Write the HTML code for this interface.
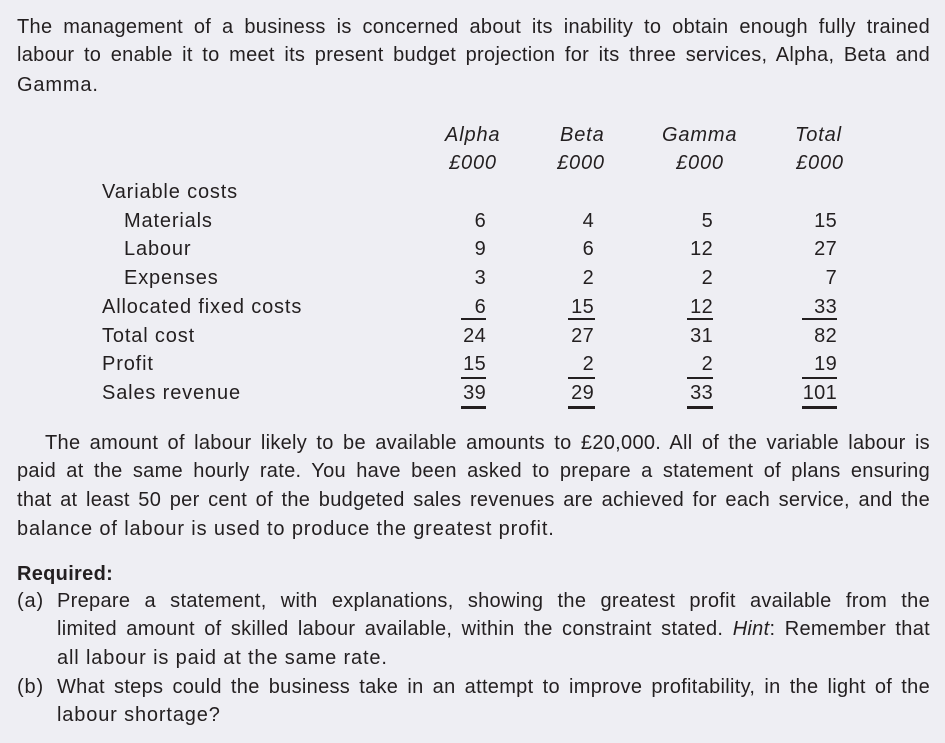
<!DOCTYPE html>
<html><head><style>
body{margin:0;width:945px;height:743px;background:#eeeef3;font-family:"Liberation Sans",sans-serif;font-size:20px;letter-spacing:0.85px;color:#231f20;position:relative;overflow:hidden}
.l{position:absolute;left:17px;width:913px;text-align:justify;text-align-last:justify;line-height:22px;overflow:visible}
.l.n{text-align-last:left;white-space:nowrap}
.t{position:absolute;line-height:22px;white-space:nowrap}
.r{position:absolute;line-height:22px;text-align:right;white-space:nowrap;letter-spacing:0.3px}
.u{position:absolute;height:2px;background:#231f20}
.d{position:absolute;height:3px;background:#231f20}
</style></head><body>
<div class="l" style="top:16px;letter-spacing:0.3px">The management of a business is concerned about its inability to obtain enough fully trained</div>
<div class="l" style="top:44px;letter-spacing:0.3px">labour to enable it to meet its present budget projection for its three services, Alpha, Beta and</div>
<div class="l n" style="top:74px">Gamma.</div>

<div class="t" style="left:445px;top:124px;font-style:italic">Alpha</div>
<div class="t" style="left:449px;top:152px;font-style:italic">£000</div>
<div class="t" style="left:560px;top:124px;font-style:italic">Beta</div>
<div class="t" style="left:557px;top:152px;font-style:italic">£000</div>
<div class="t" style="left:662px;top:124px;font-style:italic">Gamma</div>
<div class="t" style="left:676px;top:152px;font-style:italic">£000</div>
<div class="t" style="left:795px;top:124px;font-style:italic">Total</div>
<div class="t" style="left:796px;top:152px;font-style:italic">£000</div>

<div class="t" style="left:102px;top:181px">Variable costs</div>
<div class="t" style="left:124px;top:210px">Materials</div>
<div class="t" style="left:124px;top:238px">Labour</div>
<div class="t" style="left:124px;top:267px">Expenses</div>
<div class="t" style="left:102px;top:296px">Allocated fixed costs</div>
<div class="t" style="left:102px;top:325px">Total cost</div>
<div class="t" style="left:102px;top:353px">Profit</div>
<div class="t" style="left:102px;top:382px">Sales revenue</div>

<div class="r" style="left:400px;width:86px;top:210px">6</div>
<div class="r" style="left:400px;width:86px;top:238px">9</div>
<div class="r" style="left:400px;width:86px;top:267px">3</div>
<div class="r" style="left:400px;width:86px;top:296px">6</div>
<div class="r" style="left:400px;width:86px;top:325px">24</div>
<div class="r" style="left:400px;width:86px;top:353px">15</div>
<div class="r" style="left:400px;width:86px;top:382px">39</div>

<div class="r" style="left:500px;width:94px;top:210px">4</div>
<div class="r" style="left:500px;width:94px;top:238px">6</div>
<div class="r" style="left:500px;width:94px;top:267px">2</div>
<div class="r" style="left:500px;width:94px;top:296px">15</div>
<div class="r" style="left:500px;width:94px;top:325px">27</div>
<div class="r" style="left:500px;width:94px;top:353px">2</div>
<div class="r" style="left:500px;width:94px;top:382px">29</div>

<div class="r" style="left:620px;width:93px;top:210px">5</div>
<div class="r" style="left:620px;width:93px;top:238px">12</div>
<div class="r" style="left:620px;width:93px;top:267px">2</div>
<div class="r" style="left:620px;width:93px;top:296px">12</div>
<div class="r" style="left:620px;width:93px;top:325px">31</div>
<div class="r" style="left:620px;width:93px;top:353px">2</div>
<div class="r" style="left:620px;width:93px;top:382px">33</div>

<div class="r" style="left:740px;width:97px;top:210px">15</div>
<div class="r" style="left:740px;width:97px;top:238px">27</div>
<div class="r" style="left:740px;width:97px;top:267px">7</div>
<div class="r" style="left:740px;width:97px;top:296px">33</div>
<div class="r" style="left:740px;width:97px;top:325px">82</div>
<div class="r" style="left:740px;width:97px;top:353px">19</div>
<div class="r" style="left:740px;width:97px;top:382px">101</div>

<div class="u" style="left:461px;width:25px;top:318px"></div>
<div class="u" style="left:568px;width:27px;top:318px"></div>
<div class="u" style="left:687px;width:26px;top:318px"></div>
<div class="u" style="left:802px;width:35px;top:318px"></div>
<div class="u" style="left:461px;width:25px;top:377px"></div>
<div class="u" style="left:568px;width:27px;top:377px"></div>
<div class="u" style="left:687px;width:26px;top:377px"></div>
<div class="u" style="left:802px;width:35px;top:377px"></div>
<div class="d" style="left:461px;width:25px;top:406px"></div>
<div class="d" style="left:568px;width:27px;top:406px"></div>
<div class="d" style="left:687px;width:26px;top:406px"></div>
<div class="d" style="left:802px;width:35px;top:406px"></div>

<div class="l" style="top:432px;left:45px;width:885px;letter-spacing:0.3px">The amount of labour likely to be available amounts to £20,000. All of the variable labour is</div>
<div class="l" style="top:460px;letter-spacing:0.3px">paid at the same hourly rate. You have been asked to prepare a statement of plans ensuring</div>
<div class="l" style="top:489px;letter-spacing:0.3px">that at least 50 per cent of the budgeted sales revenues are achieved for each service, and the</div>
<div class="l n" style="top:518px">balance of labour is used to produce the greatest profit.</div>

<div class="t" style="left:17px;top:563px;font-weight:bold;letter-spacing:0.3px">Required:</div>
<div class="t" style="left:17px;top:590px">(a)</div>
<div class="l" style="top:590px;left:57px;width:873px;letter-spacing:0.3px">Prepare a statement, with explanations, showing the greatest profit available from the</div>
<div class="l" style="top:618px;left:57px;width:873px;letter-spacing:0.3px">limited amount of skilled labour available, within the constraint stated. <i>Hint</i>: Remember that</div>
<div class="l n" style="top:647px;left:57px;width:873px">all labour is paid at the same rate.</div>
<div class="t" style="left:17px;top:676px">(b)</div>
<div class="l" style="top:676px;left:57px;width:873px;letter-spacing:0.3px">What steps could the business take in an attempt to improve profitability, in the light of the</div>
<div class="l n" style="top:704px;left:57px;width:873px">labour shortage?</div>
</body></html>
